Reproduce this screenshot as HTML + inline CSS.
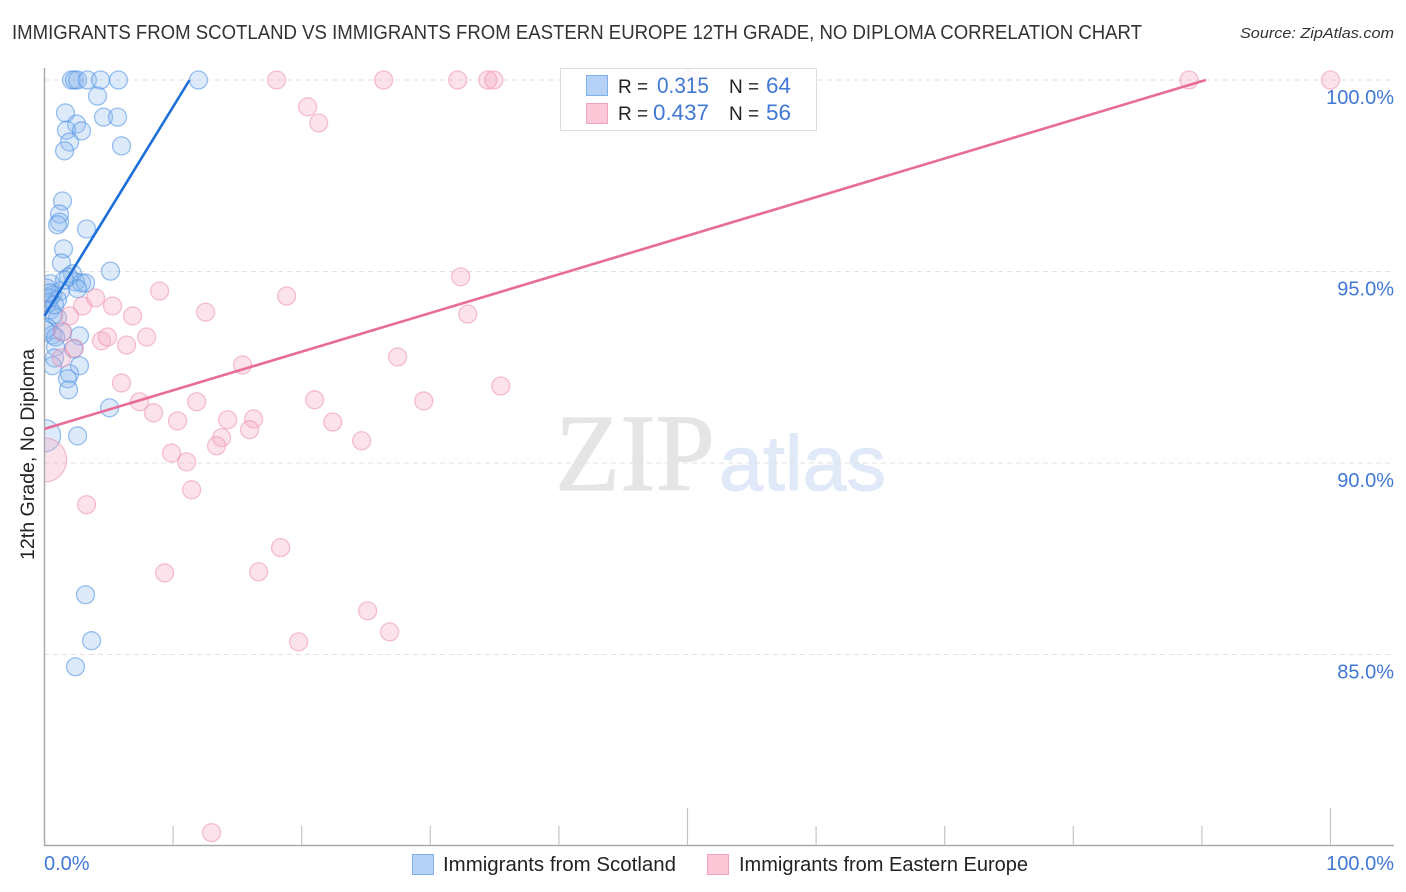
<!DOCTYPE html>
<html lang="en">
<head>
<meta charset="utf-8">
<title>Immigrants from Scotland vs Immigrants from Eastern Europe correlation chart</title>
<style>
html,body{margin:0;padding:0;background:#fff;width:1406px;height:892px;overflow:hidden}
svg{display:block;font-family:"Liberation Sans",sans-serif}
</style>
</head>
<body>
<svg id="chart" width="1406" height="892" viewBox="0 0 1406 892" xmlns="http://www.w3.org/2000/svg">
  <defs>
    <clipPath id="plot-clip"><rect x="45" y="60" width="1349" height="785"/></clipPath>
  </defs>
  <text x="12" y="39" font-size="20" fill="#333" textLength="1130" lengthAdjust="spacingAndGlyphs">IMMIGRANTS FROM SCOTLAND VS IMMIGRANTS FROM EASTERN EUROPE 12TH GRADE, NO DIPLOMA CORRELATION CHART</text>
  <text x="1240" y="38" font-size="15" font-style="italic" fill="#333" textLength="154" lengthAdjust="spacingAndGlyphs">Source: ZipAtlas.com</text>

  <g>
    <text x="555" y="490" font-family="'Liberation Serif',serif" font-size="110" fill="#e5e5e5" stroke="#e5e5e5" stroke-width="1" textLength="160" lengthAdjust="spacingAndGlyphs">ZIP</text>
    <text x="719" y="490" font-size="78" fill="#dfe9f8" stroke="#dfe9f8" stroke-width="1" textLength="167" lengthAdjust="spacingAndGlyphs">atlas</text>
  </g>

  <g id="grid"></g>
  <g id="axes"></g>
  <g id="points" clip-path="url(#plot-clip)"></g>
  <g id="trends"></g>

  <g>
    <rect x="560.5" y="68.5" width="256" height="62" fill="#fff" fill-opacity="0.8" stroke="#ddd" stroke-width="1"/>
    <rect x="586.5" y="75.5" width="21" height="20" fill="#b5d2f6" stroke="#7fb0ea"/>
    <rect x="586.5" y="103.5" width="21" height="20" fill="#fcc8d8" stroke="#f0a3bc"/>
    <text x="618" y="93" font-size="19" fill="#222">R =</text>
    <text x="709" y="93" font-size="22" fill="#4178d4" text-anchor="end" textLength="52" lengthAdjust="spacingAndGlyphs">0.315</text>
    <text x="729" y="93" font-size="19" fill="#222">N =</text>
    <text x="766" y="93" font-size="22" fill="#4178d4" textLength="25" lengthAdjust="spacingAndGlyphs">64</text>
    <text x="618" y="120" font-size="19" fill="#222">R =</text>
    <text x="709" y="120" font-size="22" fill="#4178d4" text-anchor="end" textLength="56" lengthAdjust="spacingAndGlyphs">0.437</text>
    <text x="729" y="120" font-size="19" fill="#222">N =</text>
    <text x="766" y="120" font-size="22" fill="#4178d4" textLength="25" lengthAdjust="spacingAndGlyphs">56</text>
  </g>

  <text transform="translate(34,560) rotate(-90)" font-size="19.5" fill="#222" textLength="211" lengthAdjust="spacingAndGlyphs">12th Grade, No Diploma</text>

  <g>
    <rect x="412.5" y="854.5" width="21" height="20" fill="#b5d2f6" stroke="#7fb0ea"/>
    <text x="443" y="871" font-size="20" fill="#222" textLength="233" lengthAdjust="spacingAndGlyphs">Immigrants from Scotland</text>
    <rect x="707.5" y="854.5" width="21" height="20" fill="#fcc8d8" stroke="#f0a3bc"/>
    <text x="739" y="871" font-size="20" fill="#222" textLength="289" lengthAdjust="spacingAndGlyphs">Immigrants from Eastern Europe</text>
  </g>
</svg>
<script>
const yTicks = [100, 95, 90, 85];
const yTickLabels = ["100.0%", "95.0%", "90.0%", "85.0%"];
const xTicks = [10, 20, 30, 40, 50, 60, 70, 80, 90, 100];
const xMajorTicks = [50, 100];
const xEndLabels = ["0.0%", "100.0%"];

const scotlandX = [2.10,2.33,2.57,3.34,4.36,5.75,11.97,4.12,4.59,5.68,1.63,2.49,1.71,2.88,1.95,1.56,5.99,1.40,1.17,1.17,1.01,3.27,1.48,1.32,5.13,2.18,1.87,2.41,2.88,3.19,2.57,0.47,1.24,0.16,0.62,1.01,0.39,0.23,0.47,1.01,0.70,0.23,1.40,0.62,0.86,2.72,2.26,0.86,0.78,2.72,0.62,1.95,1.79,1.87,5.06,2.57,0,3.19,3.66,2.41,0.39,0.78,0.08,1.56];
const scotlandY = [100,100,100,100,100,100,100,99.58,99.03,99.03,99.14,98.85,98.69,98.67,98.38,98.15,98.28,96.84,96.50,96.29,96.22,96.11,95.59,95.22,95.01,94.94,94.86,94.73,94.70,94.70,94.55,94.68,94.49,94.57,94.39,94.26,94.31,94.18,94.00,93.79,93.87,93.53,93.42,93.34,93.29,93.32,92.98,93.03,92.74,92.54,92.54,92.33,92.20,91.91,91.44,90.71,90.71,86.56,85.36,84.68,94.44,94.13,93.47,94.78];
const scotlandWeight = [1,1,1,1,1,1,1,1,1,1,1,1,1,1,1,1,1,1,1,1,1,1,1,1,1,1,1,1,1,1,1,1,1,1,1,1,1,1,1,1,1,1,1,1,1,1,1,1,1,1,1,1,1,1,1,1,3.2,1,1,1,1,1,1,1];

const easternX = [18.05,26.37,32.13,34.47,34.93,50.10,89.0,100,20.46,21.32,32.36,18.83,8.95,12.53,3.97,5.29,2.96,1.95,6.85,32.91,1.40,4.43,4.90,7.94,6.38,2.33,1.32,27.46,15.40,5.99,35.48,7.39,8.48,11.83,21.0,29.49,10.35,14.24,16.26,22.41,15.95,13.77,13.38,24.66,9.88,11.05,0,11.44,3.27,18.36,9.34,16.65,25.13,26.84,19.76,12.99];
const easternY = [100,100,100,100,100,100,100,100,99.30,98.88,94.86,94.36,94.49,93.94,94.31,94.10,94.10,93.84,93.84,93.89,93.42,93.19,93.29,93.29,93.08,93.00,92.74,92.77,92.56,92.09,92.01,91.60,91.31,91.60,91.65,91.62,91.10,91.13,91.15,91.07,90.87,90.66,90.45,90.58,90.26,90.03,90.08,89.30,88.91,87.79,87.13,87.16,86.14,85.59,85.33,80.35];
const easternWeight = [1,1,1,1,1,1,1,1,1,1,1,1,1,1,1,1,1,1,1,1,1,1,1,1,1,1,1,1,1,1,1,1,1,1,1,1,1,1,1,1,1,1,1,1,1,1,6,1,1,1,1,1,1,1,1,1];

const scotlandTrendX = [0, 11.28];
const scotlandTrendY = [93.84, 100];
const easternTrendX = [0, 90.3];
const easternTrendY = [90.89, 100];

const NS = "http://www.w3.org/2000/svg";
function xScale(v) { return 44.5 + v * 12.86; }
function yScale(v) { return 80 + (100 - v) * 38.3; }
function make(tag, attrs, parent) {
  const el = document.createElementNS(NS, tag);
  for (const k in attrs) el.setAttribute(k, attrs[k]);
  parent.appendChild(el);
  return el;
}
const grid = document.getElementById("grid");
const axes = document.getElementById("axes");
const pts = document.getElementById("points");
const trends = document.getElementById("trends");

yTicks.forEach(function (t, i) {
  const line = make("line", {x1: 44, x2: 1394, y1: yScale(t), y2: yScale(t), stroke: "#e2e2e2", "stroke-width": 1, "stroke-dasharray": "5 4"}, grid);
  
  
  const lab = make("text", {x: 1394, y: yScale(t) + 24, "text-anchor": "end", "font-size": 20, fill: "#4178d4"}, axes);
  lab.textContent = yTickLabels[i];
  
  
});

const yAxis = make("line", {x1: 44.5, x2: 44.5, y1: 68, y2: 846, stroke: "#aaaaaa", "stroke-width": 1.5}, axes);


const xAxis = make("line", {x1: 44, x2: 1394, y1: 845.5, y2: 845.5, stroke: "#aaaaaa", "stroke-width": 1.5}, axes);



xTicks.forEach(function (t) {
  const top = xMajorTicks.indexOf(t) >= 0 ? 808 : 826;
  const tick = make("line", {x1: xScale(t), x2: xScale(t), y1: top, y2: 845, stroke: "#c4c4c4", "stroke-width": 1.2}, axes);
  
  
});

const xStart = make("text", {x: 44, y: 870, "font-size": 20, fill: "#4178d4"}, axes);
xStart.textContent = xEndLabels[0];


const xEnd = make("text", {x: 1394, y: 870, "text-anchor": "end", "font-size": 20, fill: "#4178d4"}, axes);
xEnd.textContent = xEndLabels[1];



scotlandX.forEach(function (v, i) {
  const c = make("circle", {cx: xScale(v), cy: yScale(scotlandY[i]), r: 9 * Math.sqrt(scotlandWeight[i]), fill: "#8db8ef", "fill-opacity": 0.3, stroke: "#4a90e2", "stroke-opacity": 0.55, "stroke-width": 1.3}, pts);
  
  
});
easternX.forEach(function (v, i) {
  const c = make("circle", {cx: xScale(v), cy: yScale(easternY[i]), r: 9 * Math.sqrt(easternWeight[i]), fill: "#f7a8c0", "fill-opacity": 0.32, stroke: "#ec8fae", "stroke-opacity": 0.55, "stroke-width": 1.3}, pts);
  
  
});

const scotlandLine = make("line", {x1: xScale(scotlandTrendX[0]), y1: yScale(scotlandTrendY[0]), x2: xScale(scotlandTrendX[1]), y2: yScale(scotlandTrendY[1]), stroke: "#1f6fd8", "stroke-width": 2.6}, trends);


const easternLine = make("line", {x1: xScale(easternTrendX[0]), y1: yScale(easternTrendY[0]), x2: xScale(easternTrendX[1]), y2: yScale(easternTrendY[1]), stroke: "#e86c9a", "stroke-width": 2.6}, trends);


</script>
</body>
</html>
